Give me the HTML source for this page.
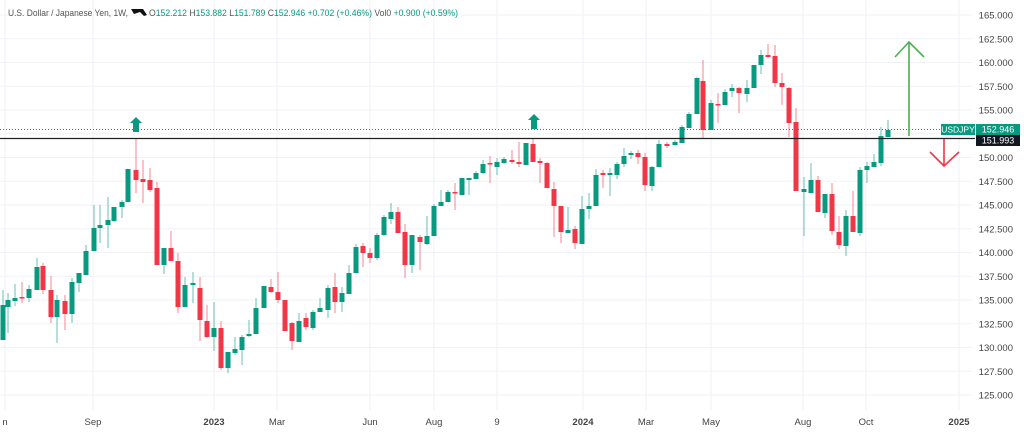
<!DOCTYPE html>
<html><head><meta charset="utf-8"><style>
body{margin:0;background:#fff;width:1024px;height:436px;overflow:hidden;font-family:"Liberation Sans",sans-serif}
svg{display:block}
</style></head><body>
<svg id="s" width="1024" height="436" xmlns="http://www.w3.org/2000/svg" font-family="Liberation Sans, sans-serif">
<g id="grid"></g>
<g id="c"></g>
<text x="8" y="16" font-size="9.5" fill="#555" textLength="120" lengthAdjust="spacingAndGlyphs">U.S. Dollar / Japanese Yen, 1W,</text>
<path d="M131 9 L143 9 L147 15 L144 16 L140 12 L134 14 Z" fill="#111"/>
<text x="149" y="16" font-size="9.5" fill="#089981" textLength="309" lengthAdjust="spacingAndGlyphs"><tspan fill="#555">O</tspan>152.212 <tspan fill="#555">H</tspan>153.882 <tspan fill="#555">L</tspan>151.789 <tspan fill="#555">C</tspan>152.946 +0.702 (+0.46%) <tspan fill="#555">Vol</tspan><tspan fill="#555">0</tspan> +0.900 (+0.59%)</text>
</svg>
<script>
var s=document.getElementById('s'),g=document.getElementById('grid'),c=document.getElementById('c');
function el(p,t,a,txt){var e=document.createElementNS('http://www.w3.org/2000/svg',t);for(var k in a)e.setAttribute(k,a[k]);if(txt!=null)e.textContent=txt;p.appendChild(e);return e;}
var G='#089981',R='#f23645';
for(var p=125;p<=165;p+=2.5){var y=15+(165-p)*9.5;el(g,'line',{x1:0,x2:972,y1:y,y2:y,stroke:'#f0f2f6','stroke-width':1});
 el(s,'text',{x:1013,y:y+3.5,'font-size':'9.5',fill:'#444','text-anchor':'end'},p.toFixed(3));}
var xl=[[5,'n',0],[93,'Sep',0],[214,'2023',1],[277,'Mar',0],[370,'Jun',0],[434,'Aug',0],[497,'9',0],[583,'2024',1],[646,'Mar',0],[711,'May',0],[803,'Aug',0],[866,'Oct',0],[959,'2025',1]];
xl.forEach(function(a){el(g,'line',{x1:a[0],x2:a[0],y1:0,y2:410,stroke:'#f0f2f6'});el(s,'text',{x:a[0],y:425,'font-size':'9.5',fill:'#444','text-anchor':'middle','font-weight':a[2]?'bold':'normal'},a[1]);});
var d=[
[3,'g',305,340,290,340],[8,'g',300,307,293,333],[15,'g',298,301,284,306],[22,'r',297,298,282,303],[29,'g',289,298,285,302],[37,'g',267,290,258,290],[43,'r',266,290,263,294],[51,'r',290,317,276,323],[57,'g',300,317,295,343],[65,'r',301,314,295,330],[72,'g',282,314,278,323],[79,'g',273,283,273,292],[86,'g',251,275,245,275],[94,'g',228,251,205,251],[100,'g',225,228,205,243],[108,'g',220,225,197,248],[114,'g',207,221,207,222],[122,'g',202,207,200,218],[128,'g',169,202,169,202],[136,'r',170,180,139,193],[143,'r',179,182,160,203],[150,'r',180,190,168,192],[157,'r',188,265,182,265],[164,'g',248,265,248,274],[171,'r',248,261,231,261],[178,'r',261,307,253,313],[185,'g',285,307,277,307],[193,'g',283,285,272,303],[200,'r',288,320,277,341],[207,'r',321,337,305,338],[214,'g',328,337,302,351],[221,'r',328,368,321,370],[228,'g',352,368,352,373],[235,'g',349,353,337,355],[242,'g',337,350,335,365],[249,'g',334,336,320,337],[256,'g',308,334,298,334],[264,'g',286,308,286,308],[271,'r',287,292,279,293],[278,'r',292,300,272,303],[285,'r',300,331,300,331],[292,'r',323,341,322,350],[299,'g',321,342,313,342],[306,'r',318,327,313,330],[313,'g',312,328,310,330],[320,'g',308,312,298,312],[328,'g',288,310,285,318],[335,'r',287,302,273,313],[342,'g',293,302,287,312],[349,'g',273,294,265,294],[356,'g',247,273,244,273],[363,'r',246,253,243,267],[370,'r',253,258,248,263],[377,'g',235,258,233,260],[384,'g',217,235,215,236],[391,'g',212,219,203,224],[398,'r',212,233,207,233],[405,'r',232,265,224,278],[412,'g',235,265,235,273],[420,'r',237,242,235,270],[427,'g',236,244,216,245],[434,'g',206,236,204,236],[441,'g',202,206,190,206],[448,'g',192,202,190,202],[455,'r',192,193,183,210],[462,'g',178,195,178,195],[469,'g',178,180,178,195],[476,'g',173,179,171,179],[483,'g',164,173,160,174],[490,'r',163,164,156,183],[497,'g',162,167,158,175],[504,'g',159,163,157,164],[512,'r',160,162,150,164],[519,'r',162,164,142,167],[526,'g',143,165,143,165],[533,'r',144,162,139,162],[540,'r',161,163,158,183],[547,'r',163,188,162,188],[554,'r',189,206,182,237],[561,'r',206,232,206,243],[568,'g',230,233,207,233],[575,'r',229,243,226,249],[582,'g',209,244,196,244],[589,'g',206,209,193,219],[596,'g',175,206,169,206],[603,'r',173,175,170,188],[610,'g',173,175,168,196],[617,'g',164,175,162,179],[624,'g',156,164,148,167],[631,'g',153,155,151,159],[638,'r',153,157,150,164],[645,'r',157,185,153,191],[652,'g',167,186,166,191],[659,'g',144,167,140,167],[667,'r',144,146,142,148],[675,'g',142,145,140,146],[682,'g',127,143,125,143],[689,'g',114,128,112,128],[697,'g',78,114,77,114],[703,'r',81,130,60,138],[711,'g',103,130,100,130],[718,'r',104,105,93,123],[725,'g',92,105,89,105],[732,'g',88,91,84,97],[739,'r',88,93,87,113],[747,'g',88,94,80,102],[754,'g',65,88,65,88],[761,'g',55,65,50,74],[768,'r',55,57,44,58],[775,'r',56,83,45,87],[782,'r',83,87,73,105],[789,'r',88,123,87,137],[796,'r',122,191,108,191],[804,'g',189,192,177,236],[811,'g',180,193,163,193],[818,'r',180,212,176,212],[825,'g',194,213,194,218],[832,'r',194,231,183,235],[839,'r',232,245,216,249],[846,'g',216,246,210,256],[853,'r',216,232,191,232],[860,'g',170,233,167,236],[867,'g',166,170,162,183],[874,'g',162,167,154,167],[881,'g',136,163,127,166],[888,'g',130,137,120,137]
];
d.forEach(function(a){var col=a[1]=='g'?G:R;var h=Math.max(1.5,a[3]-a[2]);
 el(c,'line',{x1:a[0],x2:a[0],y1:a[4],y2:a[5],stroke:col,'stroke-width':1,opacity:0.6});
 el(c,'rect',{x:a[0]-2.5,y:a[2],width:5,height:h,fill:col});});
el(s,'line',{x1:0,x2:975,y1:129.5,y2:129.5,stroke:G,'stroke-dasharray':'1 2','stroke-width':1});
el(s,'line',{x1:0,x2:975,y1:138.5,y2:138.5,stroke:'#222','stroke-width':1.2});
el(s,'path',{d:'M909 136 L909 42 M895 57 L909 42 L924 57',stroke:'#4caf50','stroke-width':1.6,fill:'none'});
el(s,'path',{d:'M944 139 L944 166 M930 152 L944 166 L959 152',stroke:'#f23645','stroke-width':1.6,fill:'none'});
el(s,'path',{d:'M136 117 L142 123 L139 123 L139 132 L133 132 L133 123 L130 123 Z',fill:G});
el(s,'path',{d:'M534 114 L540 120 L537 120 L537 129 L531 129 L531 120 L528 120 Z',fill:G});
el(s,'rect',{x:941,y:124,width:34,height:11,fill:G});
el(s,'text',{x:958,y:132.5,'font-size':'8.5',fill:'#fff','text-anchor':'middle'},'USDJPY');
el(s,'rect',{x:976,y:124,width:44,height:11,fill:G});
el(s,'text',{x:998,y:132.5,'font-size':'9',fill:'#fff','text-anchor':'middle'},'152.946');
el(s,'rect',{x:976,y:135,width:44,height:11,fill:'#131722'});
el(s,'text',{x:998,y:143.5,'font-size':'9',fill:'#fff','text-anchor':'middle'},'151.993');
</script>
</body></html>
